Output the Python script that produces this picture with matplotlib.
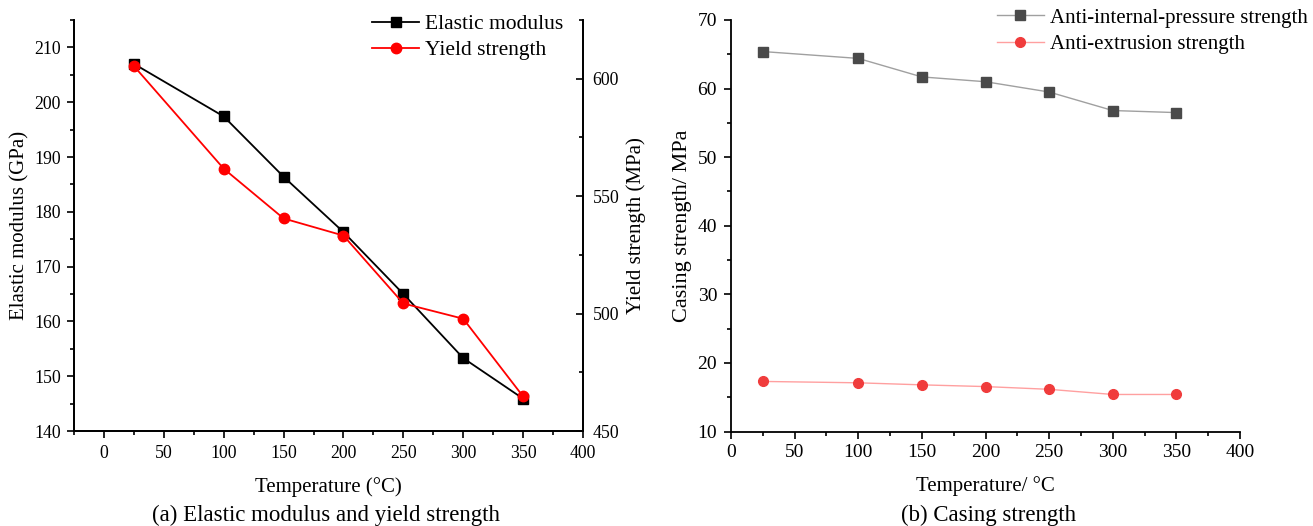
import matplotlib
matplotlib.use("Agg")
import matplotlib.pyplot as plt
from matplotlib.ticker import MultipleLocator

plt.rcParams['font.family'] = ['Liberation Serif', 'DejaVu Serif']

# values
temps = [25, 100, 150, 200, 250, 300, 350]
elastic_modulus = [207.0, 197.4, 186.4, 176.3, 165.0, 153.3, 145.9]
yield_strength = [605.4, 561.7, 540.5, 533.2, 504.3, 497.8, 464.7]
anti_internal = [65.4, 64.4, 61.7, 61.0, 59.5, 56.8, 56.5]
anti_extrusion = [17.3, 17.1, 16.8, 16.55, 16.15, 15.4, 15.4]

W, H = 1313, 526
fig = plt.figure(figsize=(W / 100, H / 100), dpi=100)


def box(l, t, r, b):
    # pixel box -> figure fraction
    return [l / W, 1 - b / H, (r - l) / W, (b - t) / H]


def fig_xy(x, y):
    return (x / W, 1 - y / H)


def style_ticks(ax, size, direction='out'):
    ax.tick_params(which='major', direction=direction, length=5, width=1.2, labelsize=size)
    ax.tick_params(which='minor', direction=direction, length=3, width=1.2)


# (a) elastic modulus and yield strength
ax1 = fig.add_axes(box(74, 20, 583, 431))
ax1.plot(temps, elastic_modulus, color='black', marker='s', ms=7.3, lw=1.3,
         label='Elastic modulus')
ax1.set_xlim(-25, 400)
ax1.set_ylim(140, 215)
ax1.xaxis.set_major_locator(MultipleLocator(50))
ax1.xaxis.set_minor_locator(MultipleLocator(25))
ax1.yaxis.set_major_locator(MultipleLocator(10))
ax1.yaxis.set_minor_locator(MultipleLocator(5))
ax1.set_xlabel('Temperature (°C)', fontsize=15, labelpad=11)
ax1.set_ylabel('Elastic modulus (GPa)', fontsize=15, labelpad=3)
ax1.spines['top'].set_visible(False)
for s in ax1.spines.values():
    s.set_linewidth(1.3)
style_ticks(ax1, 12.8)
ax1.tick_params(axis='y', which='major', pad=4.5)
ax1.tick_params(axis='x', which='major', pad=5)

ax2 = ax1.twinx()
ax2.plot(temps, yield_strength, color='#ff0000', marker='o', ms=7.5, lw=1.3,
         label='Yield strength')
ax2.set_ylim(450, 625)
ax2.yaxis.set_major_locator(MultipleLocator(50))
ax2.yaxis.set_minor_locator(MultipleLocator(25))
ax2.set_ylabel('Yield strength (MPa)', fontsize=15, labelpad=5)
ax2.spines['top'].set_visible(False)
for s in ax2.spines.values():
    s.set_linewidth(1.3)
style_ticks(ax2, 12.8, direction='in')
ax2.tick_params(axis='y', which='major', pad=7)

h1, l1 = ax1.get_legend_handles_labels()
h2, l2 = ax2.get_legend_handles_labels()
ax2.legend(h1 + h2, l1 + l2, loc='upper left', bbox_to_anchor=fig_xy(372, 14),
           bbox_transform=fig.transFigure, frameon=False, fontsize=15.5,
           handlelength=2.2, labelspacing=0.28, handletextpad=0.25,
           borderaxespad=0, borderpad=0)

fig.text(326 / W, 1 - 515 / H, '(a) Elastic modulus and yield strength',
         ha='center', va='center', fontsize=16.5)

# (b) casing strength
ax3 = fig.add_axes(box(731, 20, 1240, 431.5))
ax3.plot(temps, anti_internal, color='#a0a0a0', lw=1.0, marker='s', ms=6.6,
         mfc='#4a4a4a', mec='#4a4a4a', label='Anti-internal-pressure strength')
ax3.plot(temps, anti_extrusion, color='#ffa0a0', lw=1.0, marker='o', ms=7,
         mfc='#f03c3c', mec='#f03c3c', label='Anti-extrusion strength')
ax3.set_xlim(0, 400)
ax3.set_ylim(10, 70)
ax3.xaxis.set_major_locator(MultipleLocator(50))
ax3.xaxis.set_minor_locator(MultipleLocator(25))
ax3.yaxis.set_major_locator(MultipleLocator(10))
ax3.yaxis.set_minor_locator(MultipleLocator(5))
ax3.set_xlabel('Temperature/ °C', fontsize=15, labelpad=11)
ax3.set_ylabel('Casing strength/ MPa', fontsize=16, labelpad=4)
ax3.spines['top'].set_visible(False)
ax3.spines['right'].set_visible(False)
for s in ax3.spines.values():
    s.set_linewidth(1.3)
style_ticks(ax3, 14)
ax3.tick_params(axis='y', which='major', pad=5)
ax3.tick_params(axis='x', which='major', pad=4)
ax3.legend(loc='upper left', bbox_to_anchor=fig_xy(997, 8),
           bbox_transform=fig.transFigure, frameon=False, fontsize=15,
           handlelength=2.25, labelspacing=0.33, handletextpad=0.3,
           borderaxespad=0, borderpad=0)

fig.text(989 / W, 1 - 515 / H, '(b) Casing strength',
         ha='center', va='center', fontsize=16.5)

fig.savefig('out.png', dpi=100)
